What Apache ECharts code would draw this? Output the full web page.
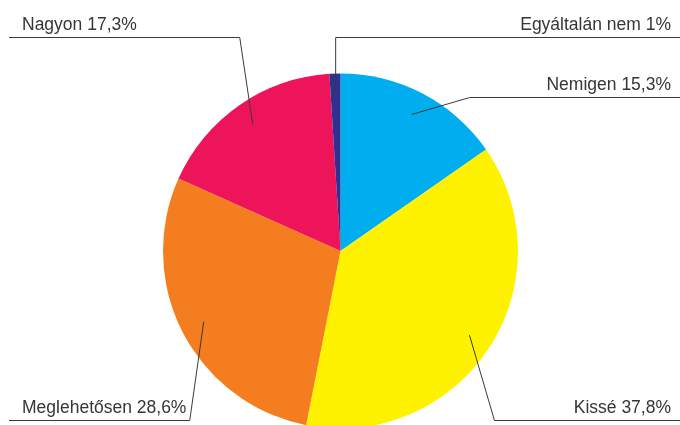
<!DOCTYPE html>
<html>
<head>
<meta charset="utf-8">
<script src="https://cdn.jsdelivr.net/npm/echarts@6/dist/echarts.min.js"></script>
<style>
  html, body { margin: 0; padding: 0; background: #fff; }
  #chart { width: 680px; height: 425px; }
</style>
</head>
<body>
<div id="chart"></div>
<script>
// Survey answers, clockwise from twelve o'clock
const categories = ['Nemigen', 'Kissé', 'Meglehetősen', 'Nagyon', 'Egyáltalán nem'];
const shares = [15.3, 37.8, 28.6, 17.3, 1];
const sliceColors = ['#00aeef', '#fff200', '#f47d20', '#ed1459', '#2e3192'];

// Label placement: side of the chart, height of the underline, sideways lean of the leader elbow
const labelSide = ['right', 'right', 'left', 'left', 'right'];
const labelRowY = [97.5, 420.5, 420.5, 37.5, 37.5];
const elbowShift = [58, 25, -14, -13, 0];

const chart = echarts.init(document.getElementById('chart'), null, { renderer: 'canvas' });
const W = chart.getWidth();
const fmt = v => String(v).replace('.', ',');
const data = categories.map((name, i) => ({ name, value: shares[i] }));

const center = [340.5, 251];
const radius = 177.5;
const anchorRadius = 154;   // leader lines start inside the slices

const option = {
  animation: false,
  series: [
    {
      type: 'pie',
      z: 2,
      radius: radius,
      center: center,
      startAngle: 90,
      clockwise: true,
      silent: true,
      label: { show: false },
      labelLine: { show: false },
      itemStyle: { borderWidth: 0 },
      data: data.map((d, i) => ({ name: d.name, value: d.value, itemStyle: { color: sliceColors[i] } }))
    },
    {
      // invisible inner ring that carries the labels and their leader lines, drawn on top
      type: 'pie',
      z: 5,
      radius: anchorRadius,
      center: center,
      startAngle: 90,
      clockwise: true,
      silent: true,
      avoidLabelOverlap: false,
      itemStyle: { color: 'rgba(0,0,0,0)', borderWidth: 0 },
      label: {
        show: true,
        position: 'outside',
        overflow: 'none',
        formatter: p => p.name + ' ' + fmt(p.value) + '%',
        fontFamily: 'Liberation Sans',
        fontSize: 17.5,
        color: '#363636'
      },
      labelLine: {
        show: true,
        length: 10,
        length2: 10,
        lineStyle: { color: '#3a3a3a', width: 1 }
      },
      labelLayout: function (p) {
        const i = p.dataIndex;
        const start = p.labelLinePoints[0];
        const y = labelRowY[i];
        const right = labelSide[i] === 'right';
        const elbow = [start[0] + elbowShift[i], y];
        const end = [right ? W : 9, y];
        return {
          x: right ? W - 9 : 22,
          y: y - 12,
          align: right ? 'right' : 'left',
          verticalAlign: 'middle',
          labelLinePoints: [start, elbow, end]
        };
      },
      data: data
    }
  ]
};

chart.setOption(option);
</script>
</body>
</html>
